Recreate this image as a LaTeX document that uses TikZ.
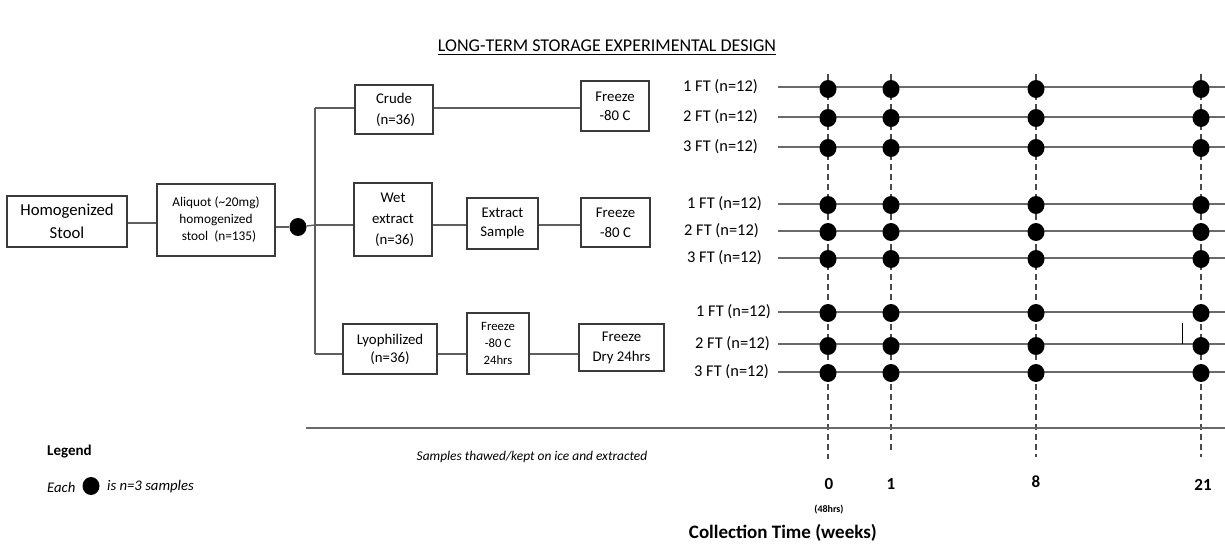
\documentclass[tikz,border=0pt]{standalone}
\usepackage{fontspec}
\setmainfont{Carlito}
\usetikzlibrary{shapes.geometric}
\definecolor{boxc}{HTML}{3A3A3A}
\definecolor{linec}{HTML}{5E5E5E}
\definecolor{tlc}{HTML}{6A6A6A}
\definecolor{dashc}{HTML}{4A4A4A}
\tikzset{
  box/.style={draw=boxc, line width=1.2pt, fill=white, align=center, inner sep=0pt},
  conn/.style={draw=linec, line width=1.4pt},
  tl/.style={draw=tlc, line width=1.5pt},
  dsh/.style={draw=dashc, line width=1.1pt, dash pattern=on 6pt off 4pt},
  bigdot/.style={ellipse, fill=black, draw=none, minimum width=17pt, minimum height=18pt, inner sep=0pt},
  lbl/.style={inner sep=0pt, font=\fontsize{16.4}{18}\selectfont},
  txt/.style={inner sep=0pt}
}
\begin{document}
\begin{tikzpicture}[x=1pt,y=-1pt]
\useasboundingbox (0,0) rectangle (1225,548);
\fill[white] (0,0) rectangle (1225,548);

% title
\node[txt, font=\fontsize{18}{20}\selectfont] (title) at (607,46) {LONG-TERM STORAGE EXPERIMENTAL DESIGN};
\coordinate (ulA) at ([yshift=-2.5pt]title.south west);
\coordinate (ulB) at ([yshift=-2.5pt]title.south east);
\draw[black, line width=1pt] (ulA) -- (ulB);

% left boxes
\node[box, minimum width=120pt, minimum height=51pt, font=\fontsize{16.7}{23}\selectfont] (hs) at (67,221.5) {Homogenized\\Stool};
\node[box, minimum width=118pt, minimum height=72pt, font=\fontsize{13.3}{17}\selectfont] (al) at (216,220) {Aliquot (\textasciitilde20mg)\\homogenized\\\ \ stool\ \ (n=135)};
\node[bigdot] (d0) at (298,227) {};

\node[box, minimum width=78pt, minimum height=49pt, font=\fontsize{14.8}{21}\selectfont] (crude) at (394,109.5) {Crude\\\ (n=36)};
\node[box, minimum width=68pt, minimum height=50pt, font=\fontsize{14.8}{19}\selectfont] (fz1) at (615,106) {Freeze\\-80 C};
\node[box, minimum width=78pt, minimum height=73pt, font=\fontsize{14.8}{21}\selectfont] (wet) at (393,219.5) {Wet\\extract\\\ (n=36)};
\node[box, minimum width=71pt, minimum height=51pt, font=\fontsize{14.8}{19}\selectfont] (ext) at (502.5,223.5) {Extract\\Sample};
\node[box, minimum width=69pt, minimum height=49pt, font=\fontsize{14.8}{20}\selectfont] (fz2) at (615.5,222.5) {Freeze\\-80 C};
\node[box, minimum width=94pt, minimum height=50pt, font=\fontsize{14.8}{18}\selectfont] (lyo) at (390,349) {Lyophilized\\(n=36)};
\node[box, minimum width=62pt, minimum height=61pt, font=\fontsize{12.7}{17}\selectfont] (fz3) at (498,343.5) {Freeze\\-80 C\\24hrs};
\node[box, minimum width=85pt, minimum height=47pt, font=\fontsize{14.8}{20}\selectfont] (fd) at (621.5,347.5) {Freeze\\Dry 24hrs};

% connectors
\coordinate (y1) at (0,223);
\draw[conn] (hs.east |- y1) -- (al.west |- y1);
\draw[conn] (al.east |- d0) -- (d0);
\coordinate (jt) at (315,108);
\coordinate (jm) at (315,225);
\coordinate (jb) at (315,354);
\draw[conn] (d0) -- (jm);
\draw[conn] (jt) -- (jb);
\draw[conn] (jt) -- (jt -| crude.west);
\draw[conn] (crude.east |- jt) -- (jt -| fz1.west);
\draw[conn] (jm) -- (jm -| wet.west);
\draw[conn] (wet.east |- jm) -- (jm -| ext.west);
\draw[conn] (ext.east |- jm) -- (jm -| fz2.west);
\draw[conn] (jb) -- (jb -| lyo.west);
\draw[conn] (lyo.east |- jb) -- (jb -| fz3.west);
\draw[conn] (fz3.east |- jb) -- (jb -| fd.west);

% timeline: dashed columns
\foreach \c/\x/\b in {0/828/459,1/891/454,8/1036/457,21/1201/457}{
  \coordinate (T\c) at (\x,74);
  \coordinate (B\c) at (\x,\b);
  \draw[dsh] (T\c) -- (B\c);
}
% rows
\foreach \r/\y/\lx/\lab in {a/87/683/1,b/117/683/2,c/147/683/3,d/204/687/1,e/231/684/2,f/258/687/3,g/312/696/1,h/344/695/2,i/372/694/3}{
  \node[lbl, anchor=west] (L\r) at (\lx,\y) {\lab\ FT (n=12)};
  \coordinate (S\r) at (778,\y);
  \coordinate (E\r) at (1225,\y);
  \draw[tl] (S\r) -- (E\r);
}
\coordinate (tk1) at (1182,323);
\coordinate (tk2) at (1182,344);
\draw[black, line width=1pt] (tk1) -- (tk2);
% dots
\foreach \r/\y in {a/89,b/118,c/148,d/205,e/232,f/259,g/313,h/346,i/373}{
  \foreach \c/\x in {0/828,1/891,8/1036,21/1201}{
    \node[bigdot] (D\r\c) at (\x,\y) {};
  }
}

% bottom line and texts
\coordinate (bl) at (306,428);
\coordinate (br) at (1225,428);
\draw[tl] (bl) -- (br);
\node[txt, font=\fontsize{13.4}{15}\selectfont\itshape] (thaw) at (532,457) {Samples thawed/kept on ice and extracted};

\node[txt, anchor=west, font=\fontsize{15}{17}\selectfont\bfseries] (leg) at (47,452) {Legend};
\node[txt, anchor=west, font=\fontsize{14.7}{17}\selectfont\itshape] (each) at (47,487) {Each};
\node[bigdot] (legdot) at (91,486) {};
\node[txt, anchor=west, font=\fontsize{14.7}{17}\selectfont\itshape] (isn) at (107,487) {is n=3 samples};

\node[txt, font=\fontsize{17}{19}\selectfont\bfseries] (n0) at (829,484) {0};
\node[txt, font=\fontsize{17}{19}\selectfont\bfseries] (n1) at (891,484) {1};
\node[txt, font=\fontsize{17}{19}\selectfont\bfseries] (n8) at (1036,482) {8};
\node[txt, font=\fontsize{17}{19}\selectfont\bfseries] (n21) at (1203,485) {21};
\node[txt, font=\fontsize{10}{11}\selectfont\bfseries] (h48) at (829,510) {(48hrs)};
\node[txt, anchor=east, font=\fontsize{19}{21}\selectfont\bfseries] (ct) at (877,533) {Collection Time (weeks)};
\end{tikzpicture}
\end{document}
